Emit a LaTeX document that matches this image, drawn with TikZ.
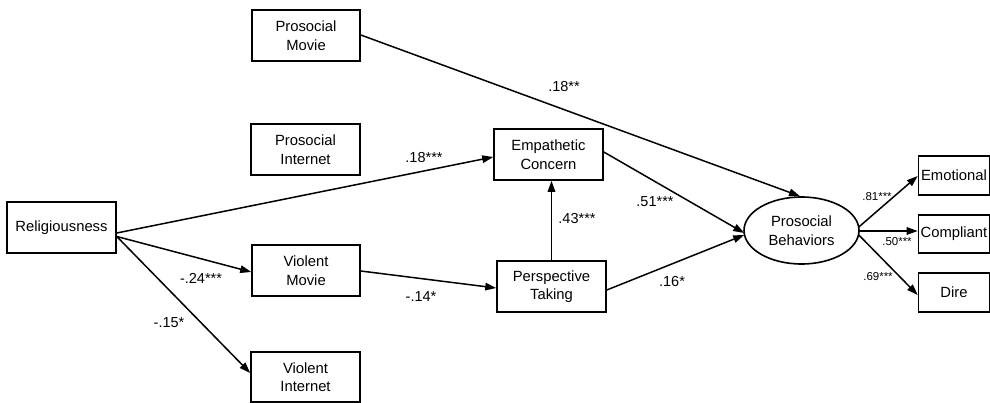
\documentclass[tikz,border=0pt]{standalone}
\usepackage{fontspec}
\setmainfont{Liberation Sans}
\usetikzlibrary{arrows.meta,shapes.geometric}
\begin{document}
\begin{tikzpicture}[x=1pt,y=-1pt,
  box/.style={draw,line width=1.6pt,inner sep=0pt,align=center,font=\fontsize{14.8}{18.5}\selectfont},
  arr/.style={line width=1.5pt,-{Triangle[length=11pt,width=7.5pt]}},
  lab/.style={font=\fontsize{14.5}{16}\selectfont,inner sep=0pt},
  slab/.style={font=\fontsize{11.5}{13}\selectfont,inner sep=0pt}]
\useasboundingbox (0,0) rectangle (990,403);
\clip (0,0) rectangle (990,403);
\node[box,minimum width=108,minimum height=51] (pm) at (306,35.5) {Prosocial\\Movie};
\node[box,minimum width=109,minimum height=51] (pi) at (305.5,149.5) {Prosocial\\Internet};
\node[box,minimum width=109,minimum height=51] (rel) at (61.5,227.5) {Religiousness};
\node[box,minimum width=108,minimum height=51] (vm) at (306,270.5) {Violent\\Movie};
\node[box,minimum width=109,minimum height=50] (vi) at (305.5,377) {Violent\\Internet};
\node[box,minimum width=109,minimum height=51] (ec) at (548.5,154.5) {Empathetic\\Concern};
\node[box,minimum width=109,minimum height=51] (pt) at (551.5,286.5) {Perspective\\Taking};
\node[box,ellipse,minimum width=115,minimum height=67] (pb) at (801.5,230.5) {Prosocial\\Behaviors};
\node[box,minimum width=71,minimum height=39] (emo) at (954,175.5) {Emotional};
\node[box,minimum width=71,minimum height=38] (com) at (954,234) {Compliant};
\node[box,minimum width=71,minimum height=39] (dire) at (954,292.5) {Dire};

\draw[arr] ([yshift=0.5]pm.east) -- ([xshift=-1.5]pb.north);
\draw[arr] ([yshift=-5.5]rel.east) -- ([yshift=-2.5]ec.west);
\draw[arr] ([yshift=-9]rel.east) -- ([yshift=-1.5]vm.west);
\draw[arr] ([yshift=-9]rel.east) -- ([yshift=4]vi.west);
\draw[arr] ([yshift=-0.5]vm.east) -- ([yshift=-1.5]pt.west);
\draw[arr] (pt.north) -- (pt.north |- ec.south);
\draw[arr] ([yshift=2.5]ec.east) -- ([yshift=-2.5,xshift=1]pb.west);
\draw[arr] ([yshift=-3.5]pt.east) -- ([yshift=-4.5,xshift=1]pb.west);
\draw[arr] ([yshift=3.5,xshift=-1]pb.east) -- ([yshift=-0.5]emo.west);
\draw[arr] ([yshift=-0.5,xshift=-1]pb.east) -- ([yshift=3]com.west);
\draw[arr] ([yshift=-4.5,xshift=-1]pb.east) -- ([yshift=-2.5]dire.west);

\node[lab] (l1) at (564,87) {.18**};
\node[lab] (l2) at (424,158) {.18***};
\node[lab] (l3) at (201,278) {-.24***};
\node[lab] (l4) at (169,323) {-.15*};
\node[lab] (l5) at (421,297) {-.14*};
\node[lab] (l6) at (577,219) {.43***};
\node[lab] (l7) at (655,202) {.51***};
\node[lab] (l8) at (672,282) {.16*};
\node[slab] (l9) at (877,197) {.81***};
\node[slab] (l10) at (897,242) {.50***};
\node[slab] (l11) at (878,277) {.69***};
\end{tikzpicture}
\end{document}
